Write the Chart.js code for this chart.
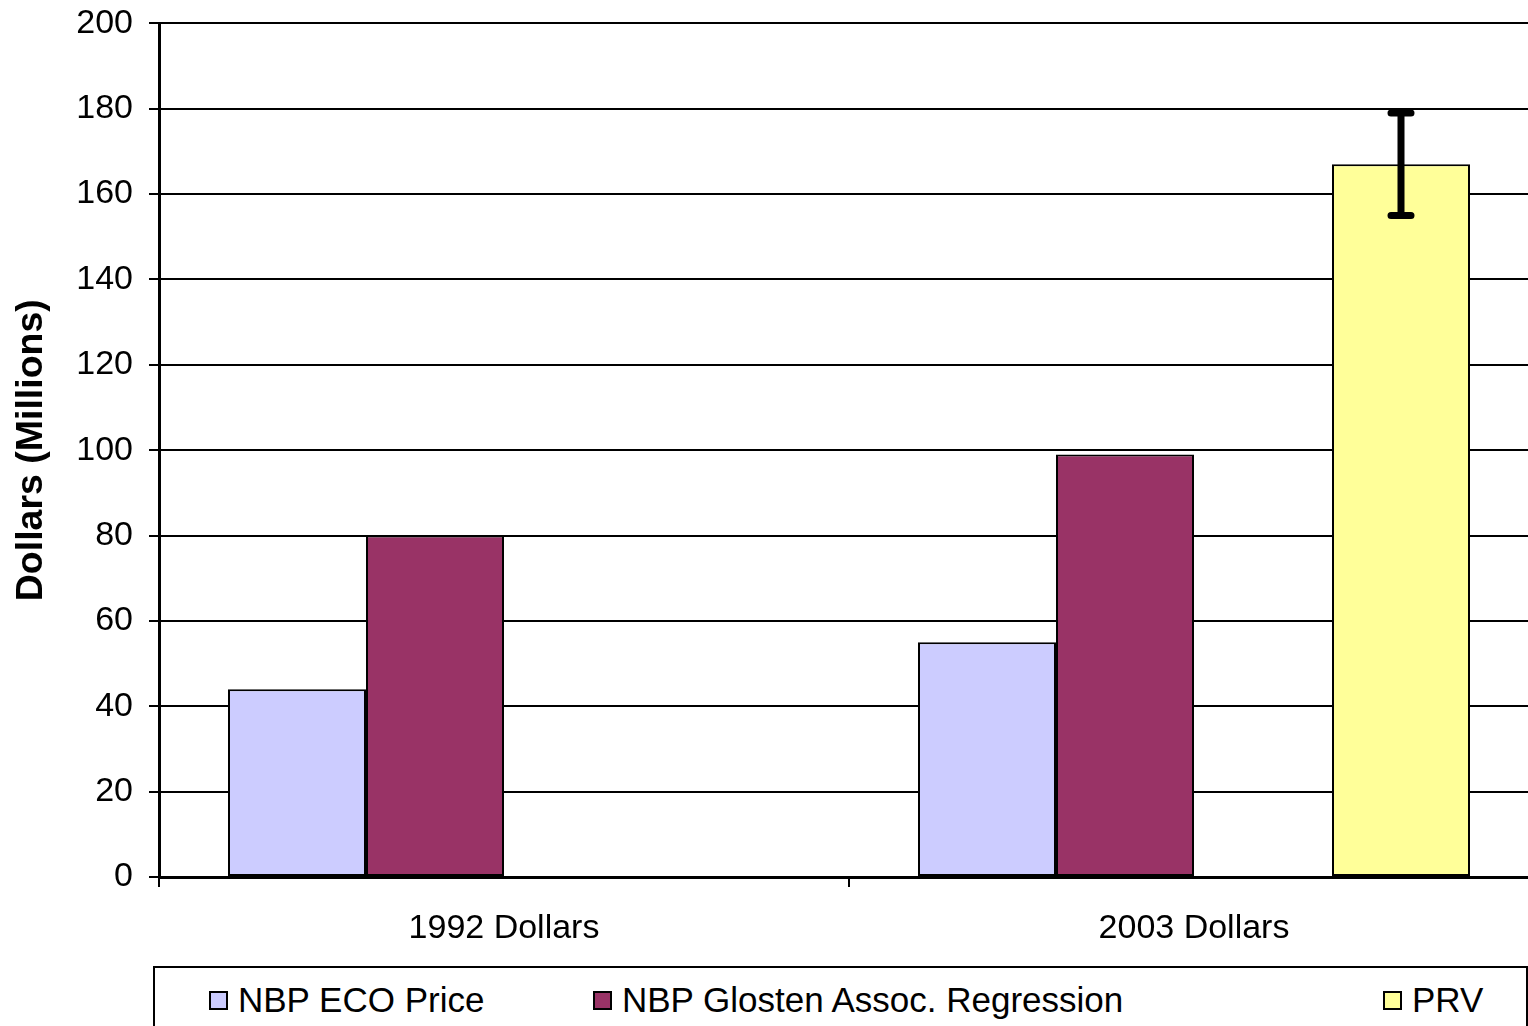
<!DOCTYPE html>
<html lang="en">
<head>
  <meta charset="UTF-8" />
  <title>NBP vs PRV</title>
  <script src="https://cdn.jsdelivr.net/npm/chart.js"></script>
  <style>
    html, body { margin: 0; padding: 0; overflow: hidden; background: #fff; }
    #wrap { position: relative; width: 1540px; height: 1026px; overflow: hidden; }
    #chart { position: absolute; left: 0; top: -13px; }
    #legend {
      position: absolute; left: 153px; top: 966px; width: 1375px; height: 80px;
      border: 2px solid #000; box-sizing: border-box; background: #fff;
      font-family: "Liberation Sans", Arial, sans-serif; font-size: 35px; color: #000;
    }
    .item { position: absolute; top: 12px; display: flex; align-items: center; white-space: nowrap; }
    .sw { width: 15px; height: 15px; border: 2px solid #000; margin-right: 10px; }
  </style>
</head>
<body>
  <div id="wrap">
    <canvas id="chart" width="1540" height="1039"></canvas>
    <div id="legend"></div>
  </div>

  <script>
    // data
    const categories = ['1992 Dollars', '2003 Dollars'];
    const ecoPrice = [44, 55];
    const glostenRegression = [80, 99];
    const spacer = [null, null];
    const prv = [null, 167];
    const prvLow = [null, 155];
    const prvHigh = [null, 179];
    const yTicks = [0, 20, 40, 60, 80, 100, 120, 140, 160, 180, 200];

    const seriesNames = ['NBP ECO Price', 'NBP Glosten Assoc. Regression', '', 'PRV'];
    const seriesColors = ['#CCCCFF', '#993366', '#FFFFFF', '#FFFF99'];
    const legendLeft = [54, 438, null, 1228];

    const font = { family: '"Liberation Sans", Arial, sans-serif', size: 34 };

    const errorBars = {
      id: 'errorBars',
      afterDatasetsDraw(chart) {
        const meta = chart.getDatasetMeta(3);
        const y = chart.scales.y;
        const ctx = chart.ctx;
        ctx.save();
        ctx.strokeStyle = '#000';
        ctx.lineWidth = 7;
        ctx.lineCap = 'round';
        meta.data.forEach((bar, i) => {
          if (prvLow[i] == null) return;
          const x = bar.x;
          const top = y.getPixelForValue(prvHigh[i]);
          const bot = y.getPixelForValue(prvLow[i]);
          ctx.beginPath();
          ctx.moveTo(x, top); ctx.lineTo(x, bot);
          ctx.moveTo(x - 10, top); ctx.lineTo(x + 10, top);
          ctx.moveTo(x - 10, bot); ctx.lineTo(x + 10, bot);
          ctx.stroke();
        });
        ctx.restore();
      }
    };

    const allData = [ecoPrice, glostenRegression, spacer, prv];

    new Chart(document.getElementById('chart'), {
      type: 'bar',
      data: {
        labels: categories,
        datasets: allData.map((d, i) => ({
          label: seriesNames[i],
          data: d,
          backgroundColor: seriesColors[i],
          borderColor: '#000',
          borderWidth: 2,
          borderSkipped: false
        }))
      },
      options: {
        responsive: false,
        animation: false,
        layout: { padding: { top: 11, right: 1, left: 0, bottom: 0 } },
        datasets: { bar: { categoryPercentage: 0.8, barPercentage: 1.0 } },
        plugins: { legend: { display: false }, tooltip: { enabled: false } },
        scales: {
          x: {
            grid: { drawOnChartArea: false, drawTicks: true, tickLength: 10, color: '#000', lineWidth: 2, offset: true },
            border: { color: '#000', width: 3 },
            ticks: { color: '#000', font: font, padding: 21 },
            afterFit(scale) { scale.height = 149; }
          },
          y: {
            min: 0, max: 200,
            afterBuildTicks(scale) { scale.ticks = yTicks.map(v => ({ value: v })); },
            grid: { color: '#000', lineWidth: 2, tickLength: 10 },
            border: { color: '#000', width: 3 },
            ticks: { color: '#000', font: font, padding: 16 },
            title: {
              display: true, text: 'Dollars (Millions)', color: '#000',
              font: { family: '"Liberation Sans", Arial, sans-serif', size: 37.5, weight: 'bold' },
              padding: { top: 9, bottom: 0 }
            },
            afterFit(scale) { scale.width = 159; }
          }
        }
      },
      plugins: [errorBars]
    });

    const legend = document.getElementById('legend');
    seriesNames.forEach((name, i) => {
      if (!name) return;
      const it = document.createElement('div');
      it.className = 'item';
      it.style.left = legendLeft[i] + 'px';
      it.innerHTML = `<div class="sw" style="background:${seriesColors[i]}"></div><span>${name}</span>`;
      legend.appendChild(it);
    });
  </script>
</body>
</html>
